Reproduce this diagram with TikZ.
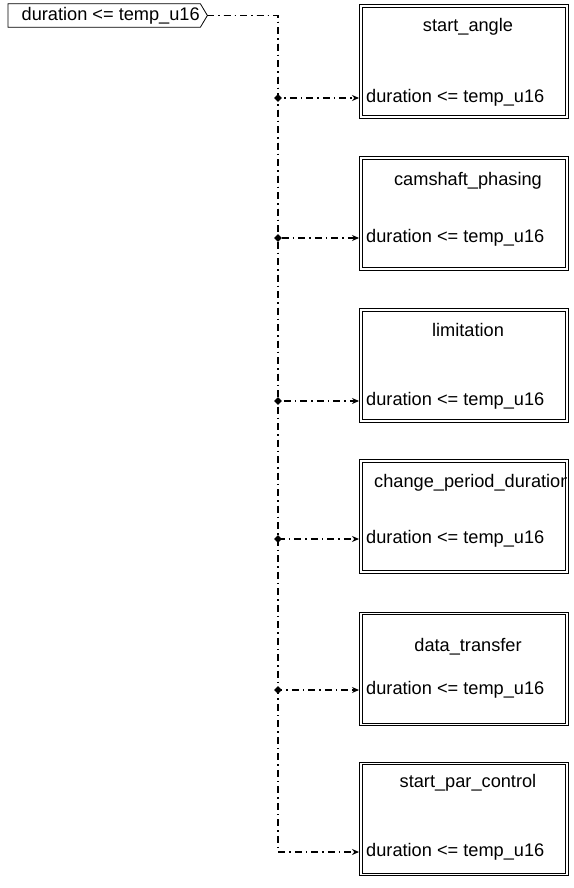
\documentclass[tikz,border=0pt]{standalone}
\usepackage{fontspec}
\setmainfont{Liberation Sans}
\usetikzlibrary{arrows.meta,shapes.geometric}
\begin{document}
\begin{tikzpicture}[x=1pt,y=-1pt,
  lbl/.style={font=\fontsize{18.2}{21}\selectfont, inner sep=0pt},
  blockbox/.style={draw, double, line width=0.8pt, double distance=1.8pt, minimum width=206pt, minimum height=111pt, inner sep=0pt},
  conn/.style={line width=1.1pt, dash pattern=on 7pt off 4pt on 1.5pt off 4pt},
  arr/.style={-{Stealth[length=7pt,width=6pt]}},
  junc/.style={diamond, fill=black, draw=none, minimum size=8pt, inner sep=0pt},
  portlbl/.style={lbl, anchor=west, inner xsep=7pt}
]
\useasboundingbox (0,0) rectangle (573,888);
% source tag
\node[lbl, anchor=west, minimum width=192pt, minimum height=23pt] (tag) at (8,15.5) {\hspace{13pt}duration <= temp\_u16};
\draw[line width=0.8pt] (tag.north west) -- (tag.north east) -- ([xshift=7pt]tag.east) -- (tag.south east) -- (tag.south west) -- cycle;
\coordinate (tagtip) at ([xshift=7pt]tag.east);
\coordinate (c0) at (278,15.5);
% boxes
\node[blockbox] (b1) at (464,61.5) {};
\node[blockbox] (b2) at (464,213.5) {};
\node[blockbox] (b3) at (464,365.5) {};
\node[blockbox] (b4) at (464,516.5) {};
\node[blockbox] (b5) at (464,669) {};
\node[blockbox] (b6) at (464,819) {};
% titles
\node[lbl] (t1) at (468,27) {start\_angle};
\node[lbl] (t2) at (468,181) {camshaft\_phasing};
\node[lbl] (t3) at (468,330) {limitation};
\begin{scope}
\clip (362,461) rectangle (566,572);
\node[lbl, anchor=west] (t4) at (374,483) {change\_period\_duration};
\end{scope}
\node[lbl] (t5) at (468,647) {data\_transfer};
\node[lbl] (t6) at (468,783) {start\_par\_control};
% ports
\node[portlbl] (p1) at (359,98) {duration <= temp\_u16};
\node[portlbl] (p2) at (359,238) {duration <= temp\_u16};
\node[portlbl] (p3) at (359,401) {duration <= temp\_u16};
\node[portlbl] (p4) at (359,539) {duration <= temp\_u16};
\node[portlbl] (p5) at (359,690) {duration <= temp\_u16};
\node[portlbl] (p6) at (359,852) {duration <= temp\_u16};
% junctions
\coordinate (j1) at (278,98);
\coordinate (j2) at (278,238);
\coordinate (j3) at (278,401);
\coordinate (j4) at (278,539);
\coordinate (j5) at (278,690);
\coordinate (j6) at (278,852);
% connectors
\foreach \i in {1,...,6}{
  \draw[conn, arr] (tagtip) -- (c0) -- (j\i) -- (p\i.west);
}
\foreach \i in {1,...,5}{
  \node[junc] (d\i) at (j\i) {};
}
\end{tikzpicture}
\end{document}
